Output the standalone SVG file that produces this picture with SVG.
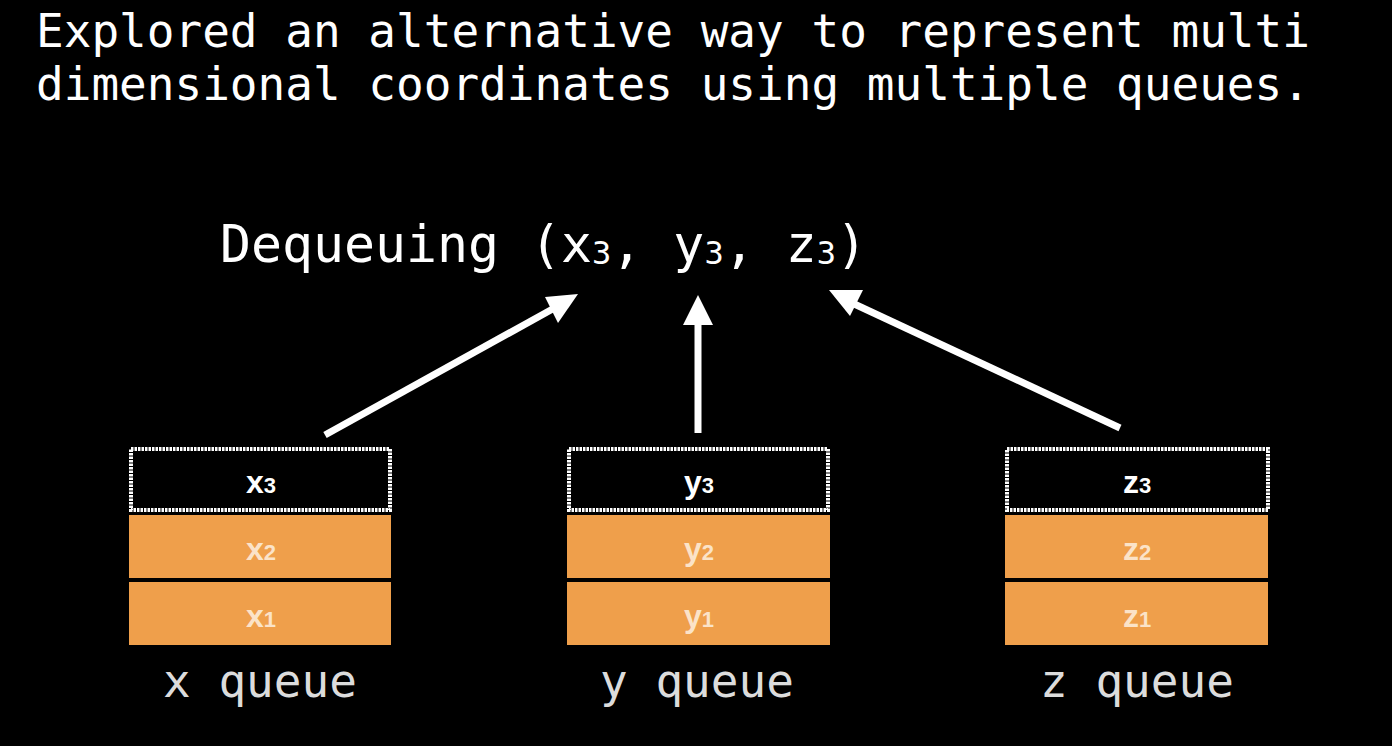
<svg xmlns="http://www.w3.org/2000/svg" width="1392" height="746" viewBox="0 0 1392 746">
<defs>
<style>
.mono{font-family:"DejaVu Sans Mono","Liberation Mono",monospace;fill:#ffffff}
.lbl{font-family:"DejaVu Sans Mono","Liberation Mono",monospace;fill:#dcdcdc;font-size:46px}
.cell{fill:#ef9f4b}
.top{fill:#000;stroke:#fff;stroke-width:4;stroke-dasharray:2.5 1}
.bt{font-family:"Liberation Sans",Arial,sans-serif;font-weight:bold;font-size:32px;text-anchor:middle}
.w{fill:#ffffff}
.f{fill:#fbe3c8}
.sub{font-size:22px}
.arr{stroke:#fff;stroke-width:7;fill:none}
.head{fill:#fff}
</style>
</defs>
<rect x="0" y="0" width="1392" height="746" fill="#000"/>
<g id="title">
<text class="mono" x="36" y="47" font-size="46">Explored an alternative way to represent multi</text>
<text class="mono" x="36" y="100" font-size="46">dimensional coordinates using multiple queues.</text>
</g>
<g id="dequeue">
<text class="mono" x="220" y="262" font-size="51.5">Dequeuing (x<tspan font-size="32" dy="2">3</tspan><tspan dy="-2">, y</tspan><tspan font-size="32" dy="2">3</tspan><tspan dy="-2">, z</tspan><tspan font-size="32" dy="2">3</tspan><tspan dy="-2">)</tspan></text>
</g>
<g id="connectors">
<line class="arr" x1="325" y1="435" x2="558" y2="306"/>
<polygon class="head" points="578,294 545,297 558,323"/>
<line class="arr" x1="698" y1="433" x2="698" y2="320"/>
<polygon class="head" points="698,295 683,325 713,325"/>
<line class="arr" x1="1120" y1="428" x2="850" y2="302"/>
<polygon class="head" points="829,290 863,290 850,316"/>
</g>
<g id="x-queue">
<rect class="top" x="131" y="449" width="259" height="61"/>
<rect class="cell" x="129" y="515" width="262" height="63"/>
<rect class="cell" x="129" y="582" width="262" height="63"/>
<text class="bt w" x="261" y="493">x<tspan class="sub">3</tspan></text>
<text class="bt f" x="261" y="560">x<tspan class="sub">2</tspan></text>
<text class="bt f" x="261" y="627">x<tspan class="sub">1</tspan></text>
<text class="lbl" x="163" y="697">x queue</text>
</g>
<g id="y-queue">
<rect class="top" x="569" y="449" width="259" height="61"/>
<rect class="cell" x="567" y="515" width="263" height="63"/>
<rect class="cell" x="567" y="582" width="263" height="63"/>
<text class="bt w" x="699" y="493">y<tspan class="sub">3</tspan></text>
<text class="bt f" x="699" y="560">y<tspan class="sub">2</tspan></text>
<text class="bt f" x="699" y="627">y<tspan class="sub">1</tspan></text>
<text class="lbl" x="600" y="697">y queue</text>
</g>
<g id="z-queue">
<rect class="top" x="1007" y="449" width="261" height="61"/>
<rect class="cell" x="1005" y="515" width="263" height="63"/>
<rect class="cell" x="1005" y="582" width="263" height="63"/>
<text class="bt w" x="1137" y="493">z<tspan class="sub">3</tspan></text>
<text class="bt f" x="1137" y="560">z<tspan class="sub">2</tspan></text>
<text class="bt f" x="1137" y="627">z<tspan class="sub">1</tspan></text>
<text class="lbl" x="1040" y="697">z queue</text>
</g>
</svg>
